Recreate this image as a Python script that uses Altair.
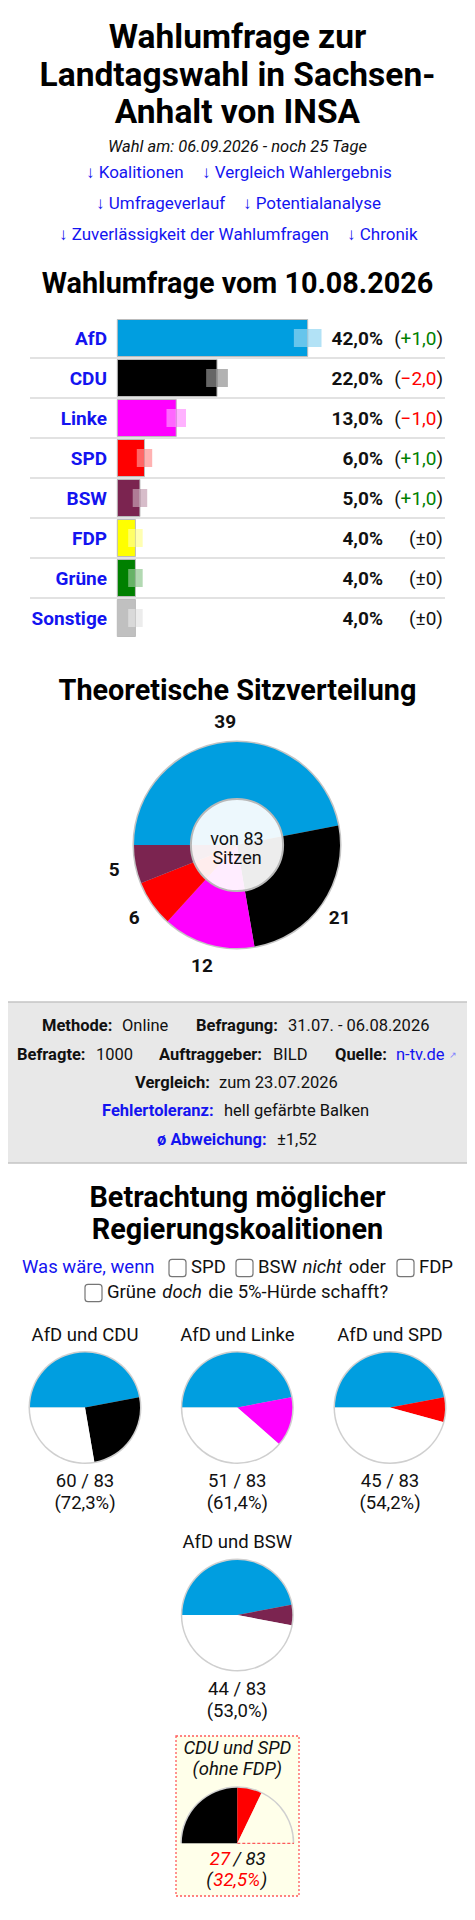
import math
import pandas as pd
import altair as alt

# ---------------- data ----------------
PARTIES = ["AfD", "CDU", "Linke", "SPD", "BSW", "FDP", "Grüne", "Sonstige"]
VALUES = [42.0, 22.0, 13.0, 6.0, 5.0, 4.0, 4.0, 4.0]
ERRORS = [3.05, 2.4, 2.15, 1.7, 1.6, 1.6, 1.6, 1.6]
CHANGES = [1.0, -2.0, -1.0, 1.0, 1.0, 0.0, 0.0, 0.0]
COLORS = ["#009ee0", "#000000", "#ff00ff", "#ff0000", "#7b2450", "#ffff00", "#008000", "#c0c0c0"]

SEAT_PARTIES = ["AfD", "CDU", "Linke", "SPD", "BSW"]
SEATS = [39, 21, 12, 6, 5]
TOTAL_SEATS = 83
MAJORITY = 42

COALITION_LEAD = "AfD"
COALITION_PARTNERS = ["CDU", "Linke", "SPD", "BSW"]
MINORITY_COALITION = ["CDU", "SPD"]

TITLE_LINES = ["Wahlumfrage zur", "Landtagswahl in Sachsen-", "Anhalt von INSA"]
SUBTITLE = "Wahl am: 06.09.2026 - noch 25 Tage"
LINKS = [["↓ Koalitionen", "↓ Vergleich Wahlergebnis"],
         ["↓ Umfrageverlauf", "↓ Potentialanalyse"],
         ["↓ Zuverlässigkeit der Wahlumfragen", "↓ Chronik"]]
POLL_TITLE = "Wahlumfrage vom 10.08.2026"
SEAT_TITLE = "Theoretische Sitzverteilung"
COAL_TITLE = ["Betrachtung möglicher", "Regierungskoalitionen"]

BLUE = "#1414f0"
TXT = "#111111"
PI = math.pi

COLOR_DOMAIN = PARTIES + ["Rest", "Frei"]
COLOR_RANGE = COLORS + ["#ffffff", "#ffffea"]
cs = alt.Scale(domain=COLOR_DOMAIN, range=COLOR_RANGE)


def fmt(v, nd=1):
    return f"{v:.{nd}f}".replace(".", ",")


def txt(s, x, y, size=17, weight="normal", color=TXT, align="left", italic=False):
    return alt.Chart(pd.DataFrame({"t": [s]})).mark_text(
        align=align, baseline="alphabetic", fontSize=size, fontWeight=weight,
        fontStyle="italic" if italic else "normal", color=color, font="Roboto"
    ).encode(text="t:N", x=alt.value(x - 8), y=alt.value(y - 8))


def rect(x1, y1, x2, y2, **kw):
    return alt.Chart(pd.DataFrame({"a": [0]})).mark_rect(**kw).encode(
        x=alt.value(x1 - 8), x2=alt.value(x2 - 8), y=alt.value(y1 - 8), y2=alt.value(y2 - 8))


def rule(x1, y1, x2, y2, **kw):
    return alt.Chart(pd.DataFrame({"a": [0]})).mark_rule(**kw).encode(
        x=alt.value(x1 - 8), x2=alt.value(x2 - 8), y=alt.value(y1 - 8), y2=alt.value(y2 - 8))


def disk(cx, cy, r, t0, t1, color):
    return alt.Chart(pd.DataFrame({"a": [0]})).mark_arc(
        radius=r, theta=t0, theta2=t1, color=color
    ).encode(x=alt.value(cx - 8), y=alt.value(cy - 8))


layers = []

# ---------------- header ----------------
for i, line in enumerate(TITLE_LINES):
    layers.append(txt(line, 237.5, 48 + i * 37.5, size=33.5, weight="bold", color="#000", align="center"))
layers.append(txt(SUBTITLE, 237.5, 152, size=16.5, italic=True, align="center"))
LINK_X = [[86, 202], [96, 243], [59, 347]]
LINK_Y = [178.3, 209.3, 240]
for row, xs_, yy in zip(LINKS, LINK_X, LINK_Y):
    for s, xx in zip(row, xs_):
        layers.append(txt(s, xx, yy, size=17, color=BLUE))

# ---------------- poll bars ----------------
layers.append(txt(POLL_TITLE, 237.5, 292.7, size=28.8, weight="bold", color="#000", align="center"))

bdf = pd.DataFrame({
    "p": PARTIES, "v": VALUES,
    "lo": [v - e for v, e in zip(VALUES, ERRORS)],
    "hi": [v + e for v, e in zip(VALUES, ERRORS)],
    "ch": CHANGES,
    "pct": [fmt(v) + "%" for v in VALUES],
    "chs": [("+" + fmt(c)) if c > 0 else ("−" + fmt(-c)) if c < 0 else "±0" for c in CHANGES],
})
x0 = 117.3 - 8
xs = alt.Scale(domain=[0, 100], range=[x0, x0 + 453.3])
ys = alt.Scale(domain=PARTIES, range=[310, 630], paddingInner=0, paddingOuter=0)
Y = alt.Y("p:N", scale=ys, axis=None)
C = alt.Color("p:N", scale=cs, legend=None)
base = alt.Chart(bdf)

layers.append(base.transform_filter("datum.p != 'Sonstige'").mark_rule(color="#d9d9d9", strokeWidth=1.5).encode(
    y=alt.Y("p:N", scale=ys, axis=None, bandPosition=1), x=alt.value(22), x2=alt.value(437)))
layers.append(base.mark_bar(height=37, stroke="#bbbbbb", strokeWidth=1).encode(
    x=alt.X("v:Q", scale=xs, axis=None), y=Y, color=C))
layers.append(base.mark_bar(height=18, opacity=0.3).encode(
    x=alt.X("lo:Q", scale=xs, axis=None), x2="hi:Q", y=Y, color=C))
layers.append(base.mark_bar(height=18, color="white", opacity=0.4).encode(
    x=alt.X("lo:Q", scale=xs, axis=None), x2="v:Q", y=Y))
layers.append(base.mark_text(align="right", baseline="alphabetic", dy=6.5, fontSize=19, fontWeight="bold",
                             color=BLUE, font="Roboto").encode(x=alt.value(107 - 8), y=Y, text="p:N"))
layers.append(base.mark_text(align="right", baseline="alphabetic", dy=6.5, fontSize=19, fontWeight="bold",
                             color="#111", font="Roboto").encode(x=alt.value(383 - 8), y=Y, text="pct:N"))
RX = 443 - 8
nz = base.transform_filter("datum.ch != 0")
layers.append(nz.mark_text(align="right", baseline="alphabetic", dy=6.5, fontSize=19, color="#111",
                           font="Roboto").encode(x=alt.value(RX), y=Y, text=alt.value(")")))
layers.append(nz.mark_text(align="right", baseline="alphabetic", dy=6.5, fontSize=19, font="Roboto").encode(
    x=alt.value(RX - 6.5), y=Y, text="chs:N",
    color=alt.condition("datum.ch > 0", alt.value("#008000"), alt.value("#ff0000"))))
layers.append(nz.mark_text(align="right", baseline="alphabetic", dy=6.5, fontSize=19, color="#111",
                           font="Roboto").encode(x=alt.value(RX - 6.5 - 35.8), y=Y, text=alt.value("(")))
layers.append(base.transform_filter("datum.ch == 0").mark_text(
    align="right", baseline="alphabetic", dy=6.5, fontSize=19, color="#111", font="Roboto").encode(
    x=alt.value(RX), y=Y, text=alt.value("(±0)")))

# ---------------- seat donut ----------------
layers.append(txt(SEAT_TITLE, 237.5, 700, size=28.8, weight="bold", color="#000", align="center"))
sdf = pd.DataFrame({"p": SEAT_PARTIES, "s": SEATS, "o": list(range(len(SEATS)))})
DCX, DCY = 237, 845
layers.append(disk(DCX, DCY, 104.5, 0, 2 * PI, "#c4c4c4"))
th_full = alt.Scale(range=[1.5 * PI, 3.5 * PI])
layers.append(alt.Chart(sdf).mark_arc(radius=103).encode(
    theta=alt.Theta("s:Q", stack=True, scale=th_full), color=C, order=alt.Order("o:Q"),
    x=alt.value(DCX - 8), y=alt.value(DCY - 8)))
layers.append(alt.Chart(sdf).mark_text(radius=125, fontSize=19, fontWeight="bold", color="#111",
                                        font="Roboto").encode(
    theta=alt.Theta("s:Q", stack=True, scale=th_full), order=alt.Order("o:Q"), text="s:Q",
    x=alt.value(DCX - 8), y=alt.value(DCY - 8 + 1.5)))
layers.append(alt.Chart(pd.DataFrame({"a": [0]})).mark_circle(
    size=PI * 52 * 52, color="white", fillOpacity=0.93, stroke="#b8b8b8", strokeWidth=2, opacity=1).encode(
    x=alt.value(DCX - 8), y=alt.value(DCY - 8)))
layers.append(txt(f"von {TOTAL_SEATS}", DCX, 845.3, size=18, align="center"))
layers.append(txt("Sitzen", DCX, 863.7, size=18, align="center"))

# ---------------- info box ----------------
layers.append(rect(8, 1002, 467, 1163, fill="#e8e8e8"))
layers.append(rule(8, 1002, 467, 1002, color="#c4c4c4", strokeWidth=1.5))
layers.append(rule(8, 1163, 467, 1163, color="#c4c4c4", strokeWidth=1.5))
INFO = [
    [("Methode:", 42, True, TXT), ("Online", 122, False, TXT), ("Befragung:", 196, True, TXT),
     ("31.07. - 06.08.2026", 288, False, TXT)],
    [("Befragte:", 17, True, TXT), ("1000", 96, False, TXT), ("Auftraggeber:", 159, True, TXT),
     ("BILD", 273, False, TXT), ("Quelle:", 335, True, TXT), ("n-tv.de", 396, False, BLUE)],
    [("Vergleich:", 135, True, TXT), ("zum 23.07.2026", 219, False, TXT)],
    [("Fehlertoleranz:", 102, True, BLUE), ("hell gefärbte Balken", 224, False, TXT)],
    [("ø Abweichung:", 157, True, BLUE), ("±1,52", 277, False, TXT)],
]
INFO_Y = [1031, 1060, 1087.7, 1116, 1145]
for row, yy in zip(INFO, INFO_Y):
    for s, xx, b, col in row:
        layers.append(txt(s, xx, yy, size=16.5, weight="bold" if b else "normal", color=col))
layers.append(txt("↗", 449, 1058, size=9, color="#8080ff"))

# ---------------- coalitions ----------------
layers.append(txt(COAL_TITLE[0], 237.5, 1206.7, size=28.8, weight="bold", color="#000", align="center"))
layers.append(txt(COAL_TITLE[1], 237.5, 1239, size=28.8, weight="bold", color="#000", align="center"))
FS = 18.5
layers.append(txt("Was wäre, wenn", 22, 1273.3, size=FS, color=BLUE))
for bx in [169, 236, 397]:
    layers.append(rect(bx, 1259.3, bx + 17, 1276.7, fill="white", stroke="#767676", strokeWidth=1.2, cornerRadius=3))
layers.append(rect(85, 1284.3, 102, 1301.7, fill="white", stroke="#767676", strokeWidth=1.2, cornerRadius=3))
layers.append(txt("SPD", 191, 1273.3, size=FS))
layers.append(txt("BSW", 258, 1273.3, size=FS))
layers.append(txt("nicht", 302.5, 1273.3, size=FS, italic=True))
layers.append(txt("oder", 348.7, 1273.3, size=FS))
layers.append(txt("FDP", 419, 1273.3, size=FS))
layers.append(txt("Grüne", 107, 1298.3, size=FS))
layers.append(txt("doch", 162.3, 1298.3, size=FS, italic=True))
layers.append(txt("die 5%-Hürde schafft?", 208.3, 1298.3, size=FS))

lead_seats = SEATS[SEAT_PARTIES.index(COALITION_LEAD)]
PIE_POS = [(85, 1407.5), (237.3, 1407.5), (390, 1407.5), (237.3, 1615)]
for partner, (cx, cy) in zip(COALITION_PARTNERS, PIE_POS):
    n = SEATS[SEAT_PARTIES.index(partner)]
    tot = lead_seats + n
    pdf = pd.DataFrame({"p": [COALITION_LEAD, partner, "Rest"],
                        "s": [lead_seats, n, TOTAL_SEATS - tot], "o": [0, 1, 2]})
    layers.append(txt(f"{COALITION_LEAD} und {partner}", cx, cy - 66.8, size=FS, align="center"))
    layers.append(disk(cx, cy, 56.5, 0, 2 * PI, "#cfcfcf"))
    layers.append(alt.Chart(pdf).mark_arc(radius=55).encode(
        theta=alt.Theta("s:Q", stack=True, scale=alt.Scale(range=[1.5 * PI, 3.5 * PI])),
        color=C, order=alt.Order("o:Q"), x=alt.value(cx - 8), y=alt.value(cy - 8)))
    layers.append(txt(f"{tot} / {TOTAL_SEATS}", cx, cy + 79.8, size=FS, align="center"))
    layers.append(txt(f"({fmt(100 * tot / TOTAL_SEATS)}%)", cx, cy + 101.5, size=FS, align="center"))

# minority coalition box
layers.append(rect(176, 1736, 299, 1896, fill="#ffffea", stroke="#ff5a5a", strokeDash=[2, 2], strokeWidth=1.3))
layers.append(txt(f"{MINORITY_COALITION[0]} und {MINORITY_COALITION[1]}", 237.3, 1754, size=FS, italic=True, align="center"))
layers.append(txt("(ohne FDP)", 237.3, 1775, size=FS, italic=True, align="center"))
HCX, HCY = 237.3, 1843.3
m_seats = [SEATS[SEAT_PARTIES.index(p)] for p in MINORITY_COALITION]
mtot = sum(m_seats)
hdf = pd.DataFrame({"p": MINORITY_COALITION + ["Frei"], "s": m_seats + [MAJORITY - mtot], "o": [0, 1, 2]})
layers.append(disk(HCX, HCY, 57, 1.5 * PI, 2.5 * PI, "#cfcfcf"))
layers.append(alt.Chart(hdf).mark_arc(radius=55.5).encode(
    theta=alt.Theta("s:Q", stack=True, scale=alt.Scale(range=[1.5 * PI, 2.5 * PI])),
    color=C, order=alt.Order("o:Q"), x=alt.value(HCX - 8), y=alt.value(HCY - 8)))
layers.append(rule(HCX, HCY, 294, HCY, color="#ff5a5a", strokeDash=[3, 2], strokeWidth=1.2))
layers.append(txt(f"{mtot}", 230, 1865, size=FS, italic=True, color="#ff0000", align="right"))
layers.append(txt(f"/ {TOTAL_SEATS}", 233.5, 1865, size=FS, italic=True))
layers.append(txt("(", 212.5, 1886, size=FS, italic=True, align="right"))
layers.append(txt(f"{fmt(100 * mtot / TOTAL_SEATS)}%", 236.8, 1886, size=FS, italic=True, color="#ff0000", align="center"))
layers.append(txt(")", 261, 1886, size=FS, italic=True))

chart = alt.layer(*layers).resolve_scale(theta="independent").properties(
    width=459, height=1896, padding=0, autosize="none"
).configure(font="Roboto", view=alt.ViewConfig(strokeWidth=0, stroke=None))

chart.save("out.html", embed_options={"renderer": "svg", "actions": False})
